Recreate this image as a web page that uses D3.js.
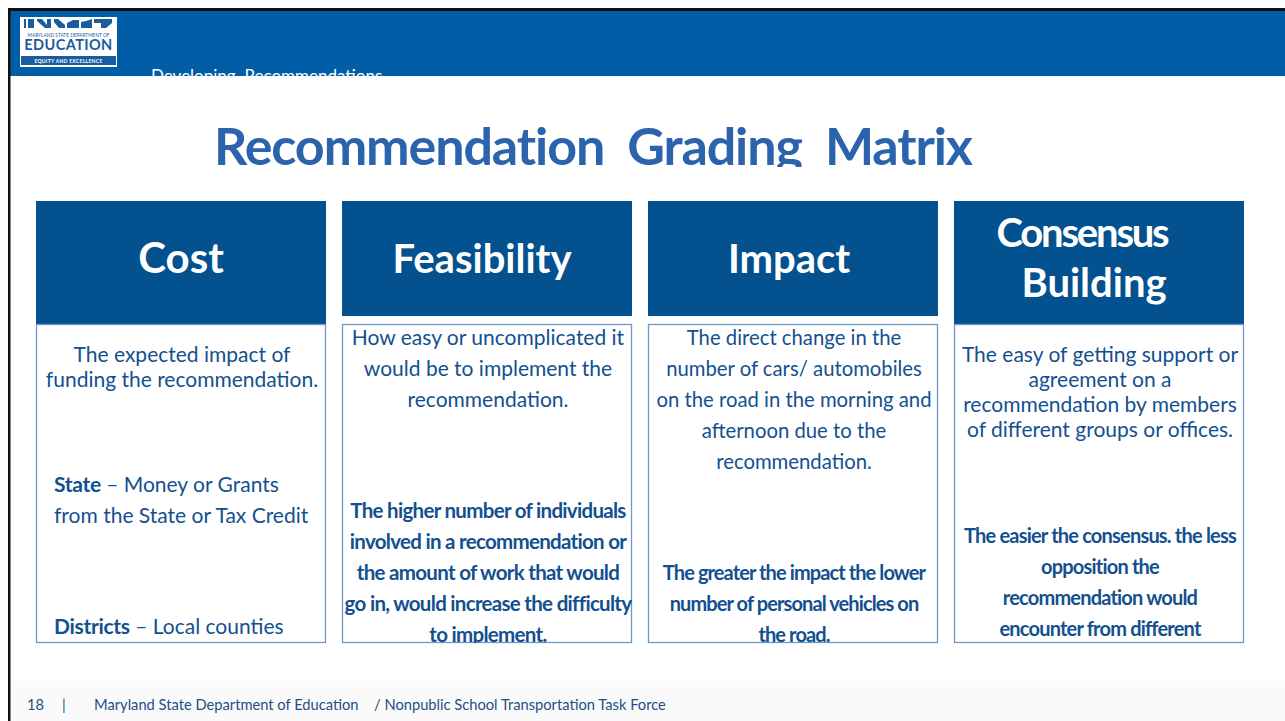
<!DOCTYPE html>
<html>
<head>
<meta charset="utf-8">
<script src="https://cdn.jsdelivr.net/npm/d3@7/dist/d3.min.js"></script>
<style>
  html, body { margin: 0; padding: 0; background: #ffffff; }
  svg { display: block; font-family: Lato, "Open Sans", sans-serif; }
  text { white-space: pre; }
</style>
</head>
<body>
<svg id="chart" width="1285" height="721"></svg>
<script>
// ---------- data ----------
const sectionLabel = "Developing  Recommendations";
const slideTitle = "Recommendation  Grading  Matrix";
const categories = ["Cost", "Feasibility", "Impact", "Consensus Building"];
const headerLines = [["Cost"], ["Feasibility"], ["Impact"], ["Consensus", "Building"]];
const descriptionLines = [
  ["The expected impact of", "funding the recommendation."],
  ["How easy or uncomplicated it", "would be to implement the", "recommendation."],
  ["The direct change in the", "number of cars/ automobiles", "on the road in the morning and", "afternoon due to the", "recommendation."],
  ["The easy of getting support or", "agreement on a", "recommendation by members", "of different groups or offices."]
];
const criteriaLines = [
  [],
  ["The higher number of individuals", "involved in a recommendation or", "the amount of work that would", "go in, would increase the difficulty", "to implement."],
  ["The greater the impact the lower", "number of personal vehicles on", "the road."],
  ["The easier the consensus. the less", "opposition the", "recommendation would", "encounter from different"]
];
const costLevels = [
  { label: "State", text: "Money or Grants", extra: "from the State or Tax Credit" },
  { label: "Districts", text: "Local counties", extra: null }
];
const footerPage = "18";
const footerOrg = "Maryland State Department of Education";
const footerProject = "/ Nonpublic School Transportation Task Force";

// ---------- layout ----------
const W = 1285, H = 721;
const C = {
  band: "#015ea6", header: "#03528f", title: "#2b63ad", body: "#13508f",
  border: "#6e98c6", black: "#111111", logo: "#1b5c9e"
};
const layout = {
  headerTop: 201, headerBottom: [324, 316, 316, 324], bodyTop: 324, bodyBottom: 642,
  headerBase: [[273], [273], [273], [247, 297]],
  headerX: [[181], [482], [789], [1082, 1094]],
  headerSize: [[42], [40], [40], [40, 40]],
  headerSpacing: [[0], [0], [0], [-2.2, 0]],
  descTop: [362, 345, 345, 362], descStep: [25, 31, 31, 25], descSize: [21, 21, 20.3, 21],
  critTop: [0, 518, 580, 543], critStep: 31,
  critSize: [20, 20.5, 20, 20], critSpacing: [0, -0.7, -0.9, -0.8]
};

const svg = d3.select("#chart");
const defs = svg.append("defs");

// footer faint stripe
svg.append("rect").attr("x", 10).attr("y", 681).attr("width", W - 10).attr("height", H - 681).attr("fill", "#fafafa");

// top band
svg.append("rect").attr("x", 8).attr("y", 8).attr("width", W - 8).attr("height", 3).attr("fill", C.black);
svg.append("rect").attr("x", 10).attr("y", 11).attr("width", W - 10).attr("height", 65).attr("fill", C.band);
// left black border
svg.append("rect").attr("x", 8).attr("y", 8).attr("width", 2.5).attr("height", H - 8).attr("fill", C.black);

// section label (clipped by content area)
defs.append("clipPath").attr("id", "bandClip")
  .append("rect").attr("x", 0).attr("y", 0).attr("width", W).attr("height", 76);
svg.append("text").attr("x", 151).attr("y", 82).attr("clip-path", "url(#bandClip)")
  .attr("fill", "#ffffff").attr("font-size", 17).text(sectionLabel);

// logo
const logo = svg.append("g").attr("transform", "translate(20,17)");
logo.append("rect").attr("width", 97).attr("height", 50).attr("fill", "#ffffff");
const picto = [
  "M8,2 L14,2 L14,11 L8,11 Z", "M17,2 L22,2 L27,8 L27,2 L31,2 L31,11 L25,11 L17,4 Z",
  "M34,2 L38,2 L45,8 L45,11 L39,11 L34,5 Z", "M47,6 L53,3 L59,3 L59,11 L47,11 Z",
  "M61,5 L66,4 L72,2 L72,11 L61,11 Z", "M74,2 L92,2 L92,6 L86,11 L81,11 L81,6 L74,6 Z"
];
logo.selectAll("path.p").data(picto).join("path").attr("d", d => d).attr("fill", C.logo);
logo.append("rect").attr("x", 4).attr("y", 2).attr("width", 2).attr("height", 9).attr("fill", C.logo);
logo.append("text").attr("x", 48.5).attr("y", 20).attr("text-anchor", "middle").attr("font-size", 4.8)
  .attr("fill", C.logo).text("MARYLAND STATE DEPARTMENT OF");
logo.append("text").attr("x", 48.5).attr("y", 33).attr("text-anchor", "middle").attr("font-size", 14.5)
  .attr("font-weight", 700).attr("letter-spacing", 0.4).attr("fill", C.logo).text("EDUCATION");
logo.append("rect").attr("x", 1).attr("y", 39).attr("width", 95).attr("height", 9).attr("fill", C.logo);
logo.append("text").attr("x", 48.5).attr("y", 45.7).attr("text-anchor", "middle").attr("font-size", 5)
  .attr("font-weight", 700).attr("letter-spacing", 0.3).attr("fill", "#ffffff").text("EQUITY AND EXCELLENCE");

// title (bottom clipped)
defs.append("clipPath").attr("id", "titleClip")
  .append("rect").attr("x", 0).attr("y", 80).attr("width", W).attr("height", 87);
svg.append("text").attr("x", 593).attr("y", 165).attr("text-anchor", "middle")
  .attr("clip-path", "url(#titleClip)").attr("fill", C.title)
  .attr("font-size", 52).attr("font-weight", 700).attr("letter-spacing", -1.1).text(slideTitle);

// cards
const x = d3.scaleBand().domain(categories).range([36, 1244]).paddingInner(16 / 306).paddingOuter(0);

categories.forEach((cat, i) => {
  const x0 = x(cat), bw = x.bandwidth();
  const g = svg.append("g");
  // header
  g.append("rect").attr("x", x0).attr("y", layout.headerTop).attr("width", bw)
    .attr("height", layout.headerBottom[i] - layout.headerTop).attr("fill", C.header);
  headerLines[i].forEach((line, j) => {
    g.append("text").attr("x", layout.headerX[i][j]).attr("y", layout.headerBase[i][j])
      .attr("text-anchor", "middle").attr("fill", "#ffffff").attr("font-size", layout.headerSize[i][j])
      .attr("letter-spacing", layout.headerSpacing[i][j])
      .attr("font-weight", 700).text(line);
  });
  // body box
  defs.append("clipPath").attr("id", "bodyClip" + i).append("rect")
    .attr("x", x0).attr("y", layout.bodyTop).attr("width", bw + 2).attr("height", layout.bodyBottom - layout.bodyTop + 1);
  g.append("rect").attr("x", x0 + 0.5).attr("y", layout.bodyTop + 0.5).attr("width", bw - 1)
    .attr("height", layout.bodyBottom - layout.bodyTop).attr("fill", "#ffffff")
    .attr("stroke", C.border).attr("stroke-width", 1.3);
  const tg = g.append("g").attr("clip-path", `url(#bodyClip${i})`);
  const cx = x0 + bw / 2 + 1;
  tg.selectAll("text.desc").data(descriptionLines[i]).join("text")
    .attr("x", cx).attr("y", (d, j) => layout.descTop[i] + j * layout.descStep[i])
    .attr("text-anchor", "middle").attr("fill", C.body).attr("font-size", layout.descSize[i]).text(d => d);
  tg.selectAll("text.crit").data(criteriaLines[i]).join("text")
    .attr("x", cx).attr("y", (d, j) => layout.critTop[i] + j * layout.critStep)
    .attr("text-anchor", "middle").attr("fill", C.body).attr("font-size", layout.critSize[i])
    .attr("font-weight", 700).attr("letter-spacing", layout.critSpacing[i]).text(d => d);
  if (i === 0) {
    const ys = [492, 634];
    costLevels.forEach((lv, k) => {
      const t = tg.append("text").attr("x", x0 + 18).attr("y", ys[k]).attr("fill", C.body).attr("font-size", 21);
      t.append("tspan").attr("font-weight", 700).attr("letter-spacing", -0.3).text(lv.label);
      t.append("tspan").text(" \u2013 " + lv.text);
      if (lv.extra) {
        tg.append("text").attr("x", x0 + 18).attr("y", ys[k] + 31).attr("fill", C.body)
          .attr("font-size", 21).text(lv.extra);
      }
    });
  }
});

// footer
const fy = 710;
const footer = svg.append("g").attr("fill", "#1f4e89").attr("font-size", 14.7);
footer.append("text").attr("x", 27).attr("y", fy).text(footerPage);
footer.append("text").attr("x", 62).attr("y", fy).text("|");
footer.append("text").attr("x", 94).attr("y", fy).text(footerOrg);
footer.append("text").attr("x", 374).attr("y", fy).text(footerProject);
</script>
</body>
</html>
